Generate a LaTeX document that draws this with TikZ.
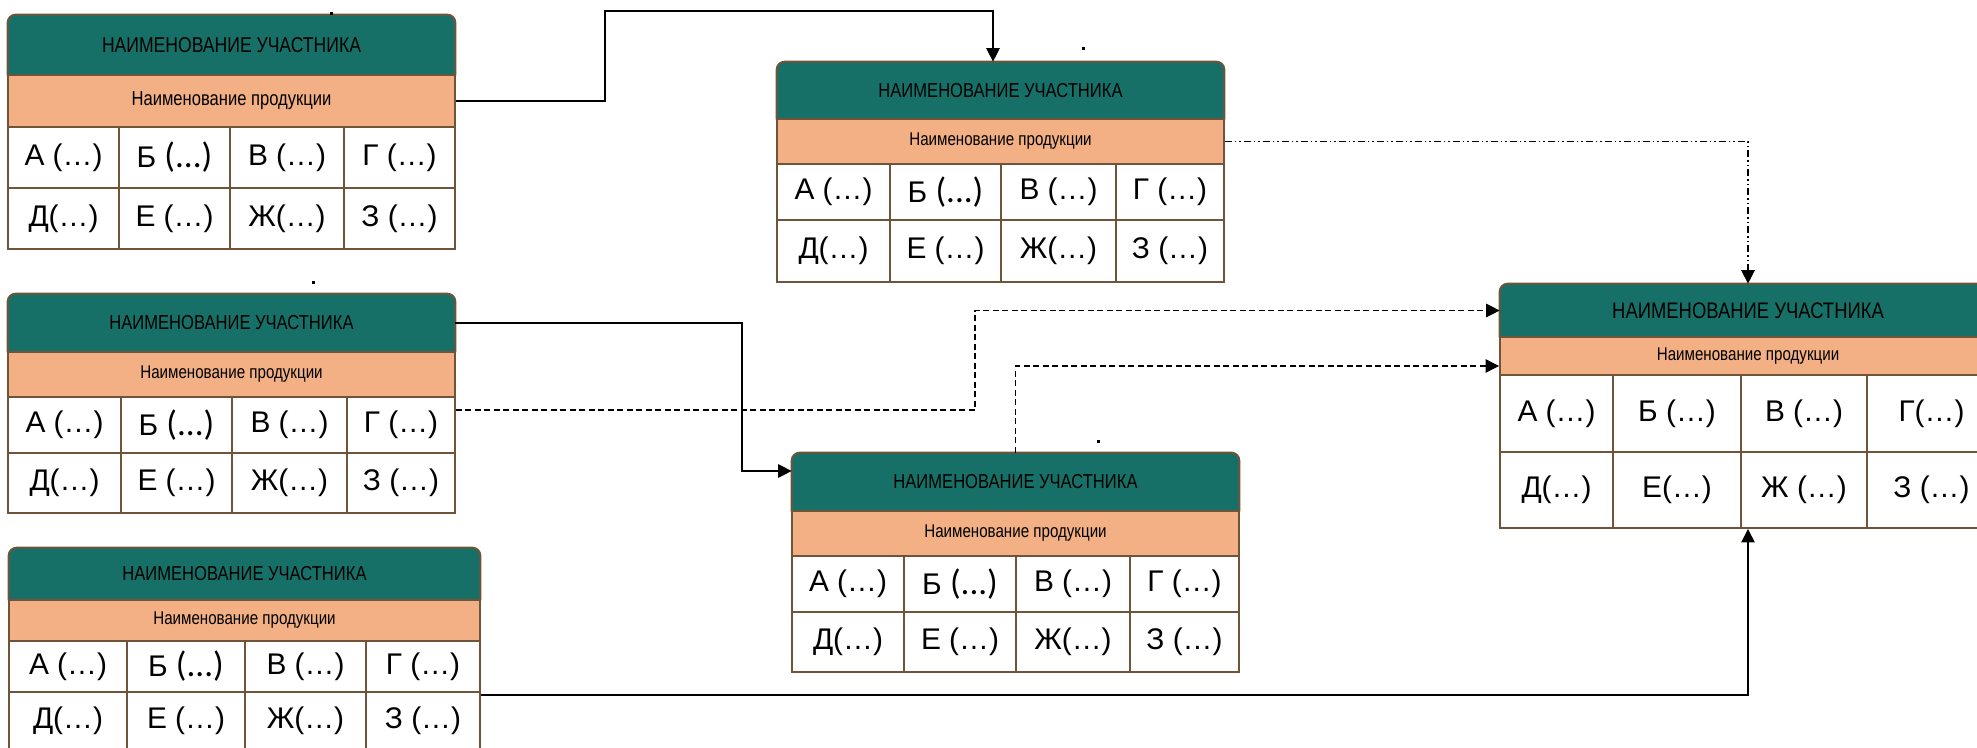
\documentclass[tikz,border=0pt]{standalone}
\usepackage{fontspec}
\setmainfont{Liberation Sans}
\newfontfamily\narrowfont[FakeStretch=0.82]{Liberation Sans}
\newfontfamily\dotsfont{Carlito}
\usetikzlibrary{arrows.meta}
\usetikzlibrary{backgrounds}
\definecolor{hdrteal}{RGB}{23,112,103}
\definecolor{subpeach}{RGB}{242,176,132}
\definecolor{edgebrown}{RGB}{112,84,58}
\newcommand{\pxu}{0.02cm}
\newcommand{\bdots}{{\dotsfont\fontsize{20}{20}\selectfont(...)}}
\tikzset{
  wh/.style 2 args={minimum width=#1*\pxu, minimum height=#2*\pxu},
  hdr/.style={inner sep=0pt, font=\narrowfont\fontsize{11.5}{13}\selectfont},
  hdrbg/.style={draw=edgebrown, line width=1.1pt, fill=hdrteal, rounded corners=0.16cm},
  prod/.style={draw=edgebrown, line width=1.1pt, fill=subpeach, inner sep=0pt, font=\narrowfont\fontsize{10.5}{12}\selectfont},
  cell/.style={draw=edgebrown, line width=1.1pt, fill=white, inner sep=0pt, font=\fontsize{17}{20}\selectfont},
  link/.style={draw=black, line width=0.7pt, -{Triangle[length=0.27cm,width=0.27cm]}},
  dashlink/.style={link, dash pattern=on 0.12cm off 0.07cm},
  dotlink/.style={link, dash pattern=on 0.14cm off 0.06cm on 0.03cm off 0.06cm on 0.03cm off 0.06cm}
}

\begin{document}
\begin{tikzpicture}[x=0.02cm,y=-0.02cm]
\useasboundingbox (0,0) rectangle (1977,747);

% participant 1
\node[hdr, wh={447}{60}, font=\narrowfont\fontsize{12.2}{14}\selectfont] (p1h) at (231.5,45) {НАИМЕНОВАНИЕ УЧАСТНИКА};
\node[prod, wh={447}{52}, font=\narrowfont\fontsize{11.5}{13}\selectfont] (p1s) at (231.5,101) {Наименование продукции};
\node[cell, wh={111}{61}] (p1r1c1) at (63.5,157.5) {А (…)};
\node[cell, wh={111}{61}] (p1r1c2) at (174.5,157.5) {Б \bdots};
\node[cell, wh={114}{61}] (p1r1c3) at (287,157.5) {В (…)};
\node[cell, wh={111}{61}] (p1r1c4) at (399.5,157.5) {Г (…)};
\node[cell, wh={111}{61}] (p1r2c1) at (63.5,218.5) {Д(…)};
\node[cell, wh={111}{61}] (p1r2c2) at (174.5,218.5) {Е (…)};
\node[cell, wh={114}{61}] (p1r2c3) at (287,218.5) {Ж(…)};
\node[cell, wh={111}{61}] (p1r2c4) at (399.5,218.5) {З (…)};

% participant 2
\node[hdr, wh={447}{58}] (p2h) at (231.5,323) {НАИМЕНОВАНИЕ УЧАСТНИКА};
\node[prod, wh={447}{45}] (p2s) at (231.5,374.5) {Наименование продукции};
\node[cell, wh={113}{56}] (p2r1c1) at (64.5,425) {А (…)};
\node[cell, wh={111}{56}] (p2r1c2) at (176.5,425) {Б \bdots};
\node[cell, wh={115}{56}] (p2r1c3) at (289.5,425) {В (…)};
\node[cell, wh={108}{56}] (p2r1c4) at (401,425) {Г (…)};
\node[cell, wh={113}{60}] (p2r2c1) at (64.5,483) {Д(…)};
\node[cell, wh={111}{60}] (p2r2c2) at (176.5,483) {Е (…)};
\node[cell, wh={115}{60}] (p2r2c3) at (289.5,483) {Ж(…)};
\node[cell, wh={108}{60}] (p2r2c4) at (401,483) {З (…)};

% participant 3
\node[hdr, wh={471}{52}] (p3h) at (244.5,574) {НАИМЕНОВАНИЕ УЧАСТНИКА};
\node[prod, wh={471}{41}] (p3s) at (244.5,620.5) {Наименование продукции};
\node[cell, wh={118}{51}] (p3r1c1) at (68,666.5) {А (…)};
\node[cell, wh={118}{51}] (p3r1c2) at (186,666.5) {Б \bdots};
\node[cell, wh={121}{51}] (p3r1c3) at (305.5,666.5) {В (…)};
\node[cell, wh={114}{51}] (p3r1c4) at (423,666.5) {Г (…)};
\node[cell, wh={118}{58}] (p3r2c1) at (68,721) {Д(…)};
\node[cell, wh={118}{58}] (p3r2c2) at (186,721) {Е (…)};
\node[cell, wh={121}{58}] (p3r2c3) at (305.5,721) {Ж(…)};
\node[cell, wh={114}{58}] (p3r2c4) at (423,721) {З (…)};

% participant 4
\node[hdr, wh={447}{57}] (p4h) at (1000.5,90.5) {НАИМЕНОВАНИЕ УЧАСТНИКА};
\node[prod, wh={447}{45}] (p4s) at (1000.5,141.5) {Наименование продукции};
\node[cell, wh={113}{56}] (p4r1c1) at (833.5,192) {А (…)};
\node[cell, wh={111}{56}] (p4r1c2) at (945.5,192) {Б \bdots};
\node[cell, wh={115}{56}] (p4r1c3) at (1058.5,192) {В (…)};
\node[cell, wh={108}{56}] (p4r1c4) at (1170,192) {Г (…)};
\node[cell, wh={113}{62}] (p4r2c1) at (833.5,251) {Д(…)};
\node[cell, wh={111}{62}] (p4r2c2) at (945.5,251) {Е (…)};
\node[cell, wh={115}{62}] (p4r2c3) at (1058.5,251) {Ж(…)};
\node[cell, wh={108}{62}] (p4r2c4) at (1170,251) {З (…)};

% participant 5
\node[hdr, wh={447}{58}] (p5h) at (1015.5,482) {НАИМЕНОВАНИЕ УЧАСТНИКА};
\node[prod, wh={447}{45}] (p5s) at (1015.5,533.5) {Наименование продукции};
\node[cell, wh={112}{56}] (p5r1c1) at (848,584) {А (…)};
\node[cell, wh={112}{56}] (p5r1c2) at (960,584) {Б \bdots};
\node[cell, wh={114}{56}] (p5r1c3) at (1073,584) {В (…)};
\node[cell, wh={109}{56}] (p5r1c4) at (1184.5,584) {Г (…)};
\node[cell, wh={112}{60}] (p5r2c1) at (848,642) {Д(…)};
\node[cell, wh={112}{60}] (p5r2c2) at (960,642) {Е (…)};
\node[cell, wh={114}{60}] (p5r2c3) at (1073,642) {Ж(…)};
\node[cell, wh={109}{60}] (p5r2c4) at (1184.5,642) {З (…)};

% participant 6 (receiver)
\node[hdr, wh={496}{53}, font=\narrowfont\fontsize{12.8}{15}\selectfont] (p6h) at (1748,310.5) {НАИМЕНОВАНИЕ УЧАСТНИКА};
\node[prod, wh={496}{38}] (p6s) at (1748,356) {Наименование продукции};
\node[cell, wh={113}{77}] (p6r1c1) at (1556.5,413.5) {А (…)};
\node[cell, wh={128}{77}] (p6r1c2) at (1677,413.5) {Б (…)};
\node[cell, wh={126}{77}] (p6r1c3) at (1804,413.5) {В (…)};
\node[cell, wh={129}{77}] (p6r1c4) at (1931.5,413.5) {Г(…)};
\node[cell, wh={113}{76}] (p6r2c1) at (1556.5,490) {Д(…)};
\node[cell, wh={128}{76}] (p6r2c2) at (1677,490) {Е(…)};
\node[cell, wh={126}{76}] (p6r2c3) at (1804,490) {Ж (…)};
\node[cell, wh={129}{76}] (p6r2c4) at (1931.5,490) {З (…)};

\begin{scope}[on background layer]
\draw[hdrbg] (p1h.south west) -- (p1h.north west) -- (p1h.north east) -- (p1h.south east);
\draw[hdrbg] (p2h.south west) -- (p2h.north west) -- (p2h.north east) -- (p2h.south east);
\draw[hdrbg] (p3h.south west) -- (p3h.north west) -- (p3h.north east) -- (p3h.south east);
\draw[hdrbg] (p4h.south west) -- (p4h.north west) -- (p4h.north east) -- (p4h.south east);
\draw[hdrbg] (p5h.south west) -- (p5h.north west) -- (p5h.north east) -- (p5h.south east);
\draw[hdrbg] (p6h.south west) -- (p6h.north west) -- (p6h.north east) -- (p6h.south east);
\end{scope}

% connectors
\coordinate (c1) at (605,11);
\coordinate (c3) at (742,400);
\coordinate (c4) at (975,360);
\draw[link] (p1s.east) -| (c1) -| ([xshift=-0.15cm]p4h.north);
\draw[dotlink] (p4s.east) -| (p6h.north);
\draw[link] (p2h.east) -| (c3) |- ([yshift=0.22cm]p5h.west);
\draw[dashlink] ([yshift=0.3cm]p2r1c4.east) -| (c4) |- (p6h.west);
\draw[dashlink] (p5h.north) |- ([yshift=-0.2cm]p6s.west);
\draw[link] ([yshift=-0.08cm]p3r2c4.north east) -| (p6h.north |- p6r2c3.south);

% stray marks
\fill (330,12) rectangle (333,15);
\fill (312,281) rectangle (315,284);
\fill (1082,47) rectangle (1085,50);
\fill (1097,440) rectangle (1100,443);

\end{tikzpicture}
\end{document}
